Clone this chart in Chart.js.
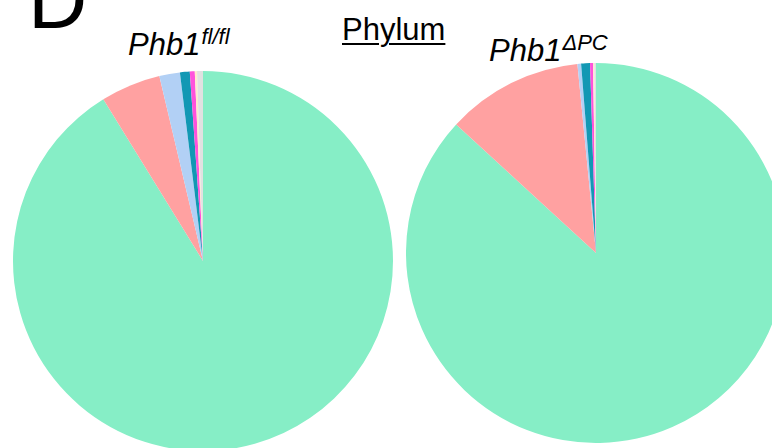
<!DOCTYPE html>
<html>
<head>
<meta charset="utf-8">
<script src="https://cdn.jsdelivr.net/npm/chart.js@4/dist/chart.umd.min.js"></script>
<style>
  html, body { margin: 0; padding: 0; background: #fff; }
  body { width: 772px; height: 448px; overflow: hidden; position: relative;
         font-family: "Liberation Sans", Arial, sans-serif; color: #000; }
  .abs { position: absolute; white-space: nowrap; line-height: 1; }
  #panel { left: 28px; top: -41px; font-size: 82px; }
  #heading { left: 342px; top: 14px; font-size: 31px; text-decoration: underline;
             text-decoration-thickness: 2px; text-underline-offset: 3px; }
  .group { font-style: italic; font-size: 31px; }
  .group sup { font-size: 22px; position: relative; top: -3px; vertical-align: top; margin-left: 1px; }
  #titleA { left: 128px; top: 29px; }
  #titleB { left: 489px; top: 35px; }
  canvas { position: absolute; }
  #pieA { left: 13px; top: 71px; }
  #pieB { left: 406px; top: 63px; }
</style>
</head>
<body>
<div class="abs" id="panel">D</div>
<div class="abs" id="heading">Phylum</div>
<div class="abs group" id="titleA">Phb1<sup>fl/fl</sup></div>
<div class="abs group" id="titleB">Phb1<sup>ΔPC</sup></div>
<canvas id="pieA" width="380" height="380"></canvas>
<canvas id="pieB" width="380" height="380"></canvas>
<script>
// Relative abundance (%) of each phylum, listed clockwise from 12 o'clock
const taxa = ['Taxon 1', 'Taxon 2', 'Taxon 3', 'Taxon 4', 'Taxon 5', 'Taxon 6', 'Taxon 7'];
const flfl = [91.2, 5.1, 1.75, 0.83, 0.42, 0.19, 0.5];
const deltaPC = [86.8, 11.6, 0.31, 0.75, 0.25, 0.11, 0.14];
const sliceColors = ['#86eec6', '#ffa1a1', '#b2d0f5', '#1298b4', '#ff52dc', '#ffe8cd', '#e1e1e1'];

function drawPie(id, values) {
  return new Chart(document.getElementById(id), {
    type: 'pie',
    data: {
      labels: taxa,
      datasets: [{ data: values, backgroundColor: sliceColors, borderWidth: 0 }]
    },
    options: {
      responsive: false,
      animation: false,
      devicePixelRatio: 1,
      layout: { padding: 0 },
      plugins: { legend: { display: false }, tooltip: { enabled: false } }
    }
  });
}

drawPie('pieA', flfl);
drawPie('pieB', deltaPC);
</script>
</body>
</html>
